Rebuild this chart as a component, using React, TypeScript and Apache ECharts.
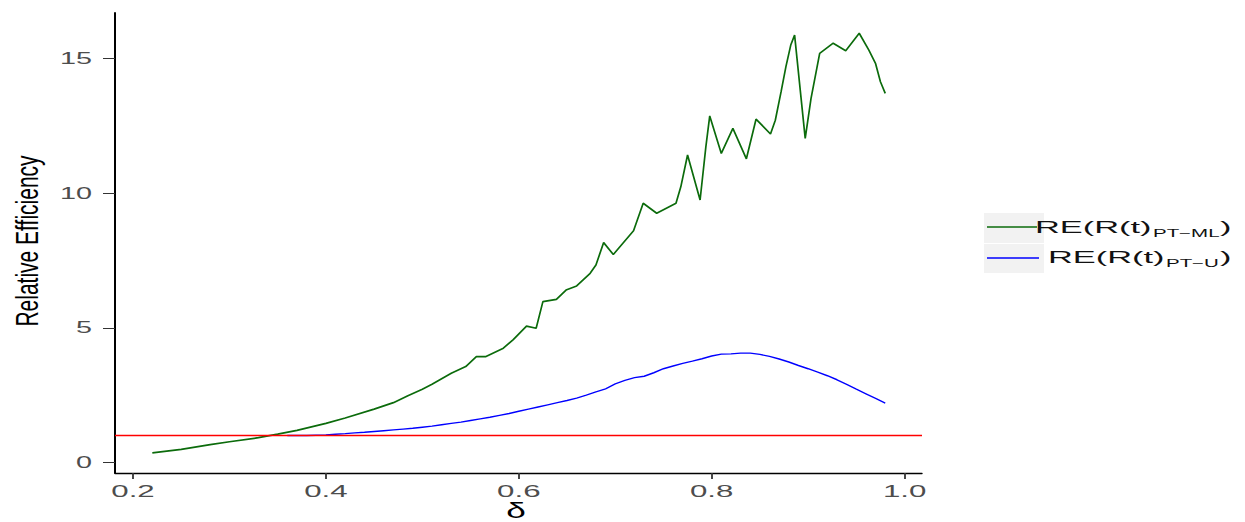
import React, { useEffect, useRef } from "react";
import * as echarts from "echarts";

// Green series: RE(R(t)_PT-ML)
const deltaML = [0.22, 0.25, 0.28, 0.30, 0.33, 0.35, 0.37, 0.40, 0.42, 0.45, 0.47, 0.485, 0.50, 0.51, 0.53, 0.545, 0.556, 0.566, 0.584, 0.594, 0.608, 0.618, 0.625, 0.639, 0.649, 0.660, 0.674, 0.680, 0.688, 0.698, 0.719, 0.729, 0.743, 0.763, 0.768, 0.775, 0.788, 0.794, 0.798, 0.810, 0.822, 0.836, 0.846, 0.861, 0.866, 0.872, 0.877, 0.882, 0.886, 0.897, 0.903, 0.912, 0.926, 0.939, 0.953, 0.963, 0.970, 0.975, 0.980];
const reML = [0.36, 0.49, 0.66, 0.77, 0.92, 1.05, 1.19, 1.45, 1.65, 1.98, 2.22, 2.48, 2.72, 2.90, 3.31, 3.56, 3.93, 3.93, 4.24, 4.55, 5.06, 4.98, 5.97, 6.05, 6.40, 6.55, 7.02, 7.33, 8.16, 7.72, 8.60, 9.62, 9.25, 9.62, 10.23, 11.41, 9.74, 11.72, 12.86, 11.47, 12.40, 11.27, 12.74, 12.19, 12.70, 13.76, 14.69, 15.49, 15.86, 12.03, 13.50, 15.18, 15.56, 15.28, 15.93, 15.30, 14.80, 14.13, 13.70];

// Blue series: RE(R(t)_PT-U)
const deltaU = [0.36, 0.37, 0.38, 0.39, 0.40, 0.41, 0.42, 0.43, 0.44, 0.45, 0.46, 0.47, 0.48, 0.49, 0.50, 0.51, 0.52, 0.53, 0.54, 0.55, 0.56, 0.57, 0.58, 0.59, 0.60, 0.61, 0.62, 0.63, 0.64, 0.65, 0.66, 0.67, 0.68, 0.69, 0.70, 0.71, 0.72, 0.73, 0.74, 0.75, 0.76, 0.77, 0.78, 0.79, 0.80, 0.81, 0.82, 0.83, 0.84, 0.85, 0.86, 0.87, 0.88, 0.89, 0.90, 0.91, 0.92, 0.93, 0.94, 0.95, 0.96, 0.97, 0.98];
const reU = [1.0, 1.0, 1.0, 1.01, 1.02, 1.05, 1.07, 1.10, 1.12, 1.15, 1.18, 1.21, 1.24, 1.27, 1.31, 1.35, 1.40, 1.45, 1.50, 1.56, 1.62, 1.68, 1.75, 1.82, 1.90, 1.98, 2.06, 2.14, 2.22, 2.30, 2.39, 2.50, 2.62, 2.73, 2.92, 3.05, 3.15, 3.20, 3.33, 3.48, 3.58, 3.68, 3.76, 3.85, 3.95, 4.02, 4.03, 4.06, 4.06, 4.01, 3.94, 3.84, 3.73, 3.60, 3.48, 3.35, 3.22, 3.07, 2.90, 2.72, 2.55, 2.38, 2.20];

const refLevel = 1;
const xTicks = [0.2, 0.4, 0.6, 0.8, 1.0];
const yTicks = [0, 5, 10, 15];
const xTitle = "\u03b4";
const yTitle = "Relative Efficiency";
const legendMain = ["RE(R(t)", "RE(R(t)"];
const legendSub = ["PT\u2212ML", "PT\u2212U"];

const FONT = "'Liberation Sans', Arial, Helvetica, sans-serif";
const GREEN = "#0B6B0B";
const BLUE = "#0000FF";
const RED = "#FF0000";

export default function App() {
  const ref = useRef<HTMLDivElement>(null);

  useEffect(() => {
    const el = ref.current;
    if (!el) return;
    const chart = echarts.init(el, null, { renderer: "svg", width: 1245, height: 522 });

    const option: any = {
      animation: false,
      backgroundColor: "#FFFFFF",
      grid: { left: 115, right: 323, top: 13, bottom: 49, containLabel: false },
      xAxis: {
        type: "value",
        min: 0.1813,
        max: 1.0181,
        axisLine: { show: true, onZero: false, lineStyle: { color: "#000", width: 1.4 } },
        axisTick: { show: true, length: 6, customValues: xTicks, lineStyle: { color: "#333", width: 1.8 } },
        axisLabel: { show: false },
        splitLine: { show: false },
      },
      yAxis: {
        type: "value",
        min: -0.39,
        max: 16.68,
        axisLine: { show: true, onZero: false, lineStyle: { color: "#000", width: 2 } },
        axisTick: { show: true, length: 12, customValues: yTicks, lineStyle: { color: "#333", width: 1 } },
        axisLabel: { show: false },
        splitLine: { show: false },
      },
      series: [
        {
          name: "ref",
          type: "line",
          data: [],
          symbol: "none",
          z: 1,
          markLine: {
            silent: true,
            symbol: ["none", "none"],
            label: { show: false },
            itemStyle: { color: RED },
            lineStyle: { color: RED, width: 1.3, type: "solid", opacity: 1 },
            emphasis: { disabled: true },
            data: [{ yAxis: refLevel, lineStyle: { color: RED, width: 1.3, type: "solid" } }],
          },
        },
        {
          name: "RE(R(t)PT-ML)",
          type: "line",
          data: deltaML.map((d, i) => [d, reML[i]]),
          symbol: "none",
          lineStyle: { color: GREEN, width: 1.7 },
          z: 3,
        },
        {
          name: "RE(R(t)PT-U)",
          type: "line",
          data: deltaU.map((d, i) => [d, reU[i]]),
          symbol: "none",
          lineStyle: { color: BLUE, width: 1.4 },
          z: 4,
        },
      ],
    };
    chart.setOption(option);

    const g: any[] = [];
    xTicks.forEach((v) => {
      const px = chart.convertToPixel({ xAxisIndex: 0 }, v) as number;
      g.push({
        type: "text",
        x: px,
        y: 492,
        scaleX: 1.95,
        style: { text: v.toFixed(1), x: 0, y: 0, align: "center", verticalAlign: "middle", fontSize: 16, fontFamily: FONT, fill: "#4D4D4D" },
      });
    });
    yTicks.forEach((v) => {
      const py = chart.convertToPixel({ yAxisIndex: 0 }, v) as number;
      g.push({
        type: "text",
        x: 92,
        y: py,
        scaleX: 1.8,
        style: { text: String(v), x: 0, y: 0, align: "right", verticalAlign: "middle", fontSize: 16, fontFamily: FONT, fill: "#4D4D4D" },
      });
    });
    // axis titles
    g.push({
      type: "text",
      x: 516,
      y: 510,
      scaleX: 1.6,
      style: { text: xTitle, x: 0, y: 0, align: "center", verticalAlign: "middle", fontSize: 22, fontFamily: FONT, fill: "#000" },
    });
    g.push({
      type: "text",
      x: 28,
      y: 241,
      rotation: Math.PI / 2,
      scaleY: 1.45,
      style: { text: yTitle, x: 0, y: 0, align: "center", verticalAlign: "middle", fontSize: 21, fontFamily: FONT, fill: "#000" },
    });
    // legend keys
    g.push({ type: "rect", shape: { x: 984, y: 213, width: 60, height: 30 }, style: { fill: "#F2F2F2" } });
    g.push({ type: "rect", shape: { x: 984, y: 244, width: 60, height: 29 }, style: { fill: "#F2F2F2" } });
    g.push({ type: "line", shape: { x1: 987, y1: 227, x2: 1037, y2: 227 }, style: { stroke: GREEN, lineWidth: 1.3 } });
    g.push({ type: "line", shape: { x1: 987, y1: 258, x2: 1039, y2: 258 }, style: { stroke: BLUE, lineWidth: 1.3 } });
    const rows = [
      { mainX: 1035, cy: 227.5, subX: 1153, subY: 233, closeX: 1220 },
      { mainX: 1048, cy: 257.5, subX: 1166, subY: 263, closeX: 1220 },
    ];
    rows.forEach((r, i) => {
      g.push({
        type: "text", x: r.mainX, y: r.cy, scaleX: 2.15,
        style: { text: legendMain[i], x: 0, y: 0, align: "left", verticalAlign: "middle", fontSize: 16, fontFamily: FONT, fill: "#111" },
      });
      g.push({
        type: "text", x: r.subX, y: r.subY, scaleX: 2.05,
        style: { text: legendSub[i], x: 0, y: 0, align: "left", verticalAlign: "middle", fontSize: 10, fontFamily: FONT, fill: "#111" },
      });
      g.push({
        type: "text", x: r.closeX, y: r.cy, scaleX: 2.15,
        style: { text: ")", x: 0, y: 0, align: "left", verticalAlign: "middle", fontSize: 16, fontFamily: FONT, fill: "#111" },
      });
    });
    chart.setOption({ graphic: g });

    return () => {
      chart.dispose();
    };
  }, []);

  return (
    <div
      ref={ref}
      style={{ position: "fixed", left: 0, top: 0, width: 1245, height: 522, background: "#fff" }}
    />
  );
}
